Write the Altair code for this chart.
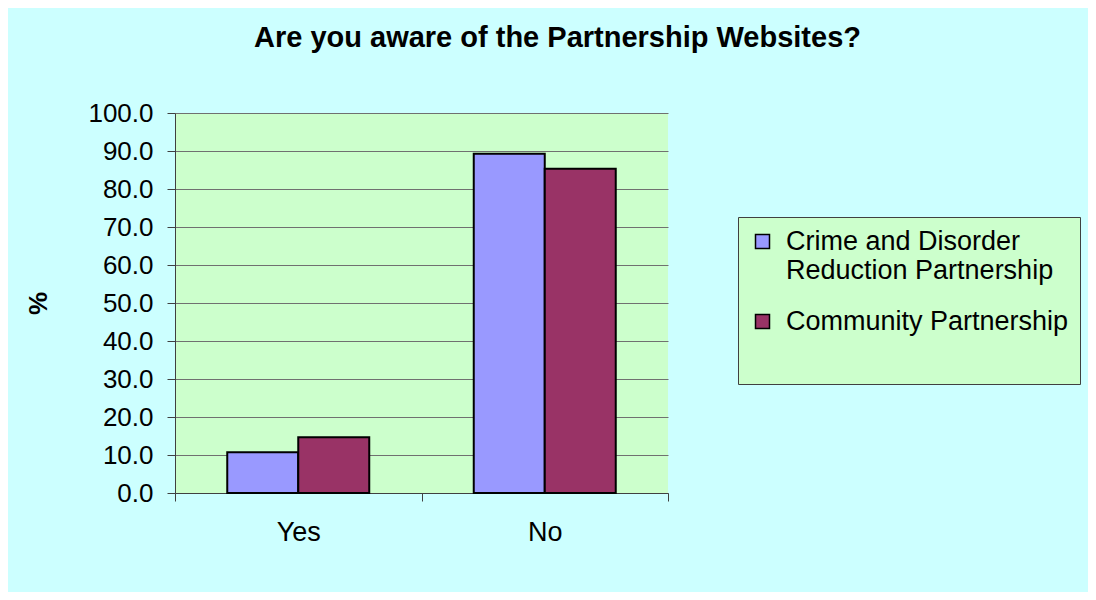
import altair as alt
import pandas as pd

categories = ["Yes", "No"]
series = ["Crime and Disorder Reduction Partnership", "Community Partnership"]
crime_values = [10.7, 89.3]
community_values = [14.7, 85.3]
colors = ["#9999FF", "#993366"]
y_ticks = [0, 10, 20, 30, 40, 50, 60, 70, 80, 90, 100]

rows = []
for i, c in enumerate(categories):
    rows.append({"answer": c, "series": series[0], "value": crime_values[i]})
    rows.append({"answer": c, "series": series[1], "value": community_values[i]})
df = pd.DataFrame(rows)

FONT = "Liberation Sans"

label_expr = (
    "datum.label == 'Crime and Disorder Reduction Partnership' ? "
    "['Crime and Disorder', 'Reduction Partnership'] : datum.label"
)

chart = (
    alt.Chart(df)
    .mark_bar(stroke="black", strokeWidth=2)
    .encode(
        x=alt.X(
            "answer:N",
            sort=categories,
            scale=alt.Scale(paddingInner=0, paddingOuter=0),
            axis=alt.Axis(
                title=None,
                labelAngle=0,
                labelFontSize=27,
                labelFont=FONT,
                labelColor="black",
                labelPadding=18,
                tickBand="extent",
                tickSize=8,
                tickColor="#404040",
                domainColor="#404040",
                domainWidth=1,
                grid=False,
            ),
        ),
        xOffset=alt.XOffset(
            "series:N",
            sort=series,
            scale=alt.Scale(paddingInner=0, paddingOuter=0.736),
        ),
        y=alt.Y(
            "value:Q",
            scale=alt.Scale(domain=[0, 100], nice=False),
            axis=alt.Axis(
                title="%",
                values=y_ticks,
                format=".1f",
                labelFontSize=26,
                labelFont=FONT,
                labelColor="black",
                labelPadding=14,
                tickSize=8,
                tickColor="#404040",
                domainColor="#404040",
                grid=True,
                gridColor="#707070",
                gridWidth=1,
                titleFont=FONT,
                titleFontSize=26,
                titleFontWeight="bold",
                titleColor="black",
                titleAngle=270,
                titleX=-137,
                titleY=190,
                titleAlign="center",
                titleBaseline="middle",
            ),
        ),
        color=alt.Color(
            "series:N",
            sort=series,
            scale=alt.Scale(domain=series, range=colors),
            legend=alt.Legend(
                title=" ",
                titleOrient="bottom",
                titleFontSize=30,
                titlePadding=8,
                orient="none",
                legendX=563,
                legendY=104,
                labelExpr=label_expr,
                labelFont=FONT,
                labelFontSize=27,
                labelColor="black",
                labelLimit=400,
                labelOffset=10,
                symbolType="square",
                symbolSize=196,
                symbolStrokeColor="black",
                symbolStrokeWidth=1.5,
                symbolOpacity=1,
                rowPadding=23,
                padding=11,
                fillColor="#CCFFCC",
                strokeColor="#404040",
            ),
        ),
    )
    .properties(
        width=493,
        height=380,
        title=alt.TitleParams(
            "Are you aware of the Partnership Websites?",
            font=FONT,
            fontSize=29,
            fontWeight="bold",
            color="black",
            anchor="middle",
            dx=136,
            offset=24,
            baseline="alphabetic",
        ),
        autosize=alt.AutoSizeParams(type="none"),
        padding={"left": 167, "top": 105, "right": 420, "bottom": 99},
    )
    .configure(background="#CCFFFF")
    .configure_view(fill="#CCFFCC", stroke=None)
)

chart.save("out.html", embed_options={"renderer": "svg", "actions": False})
